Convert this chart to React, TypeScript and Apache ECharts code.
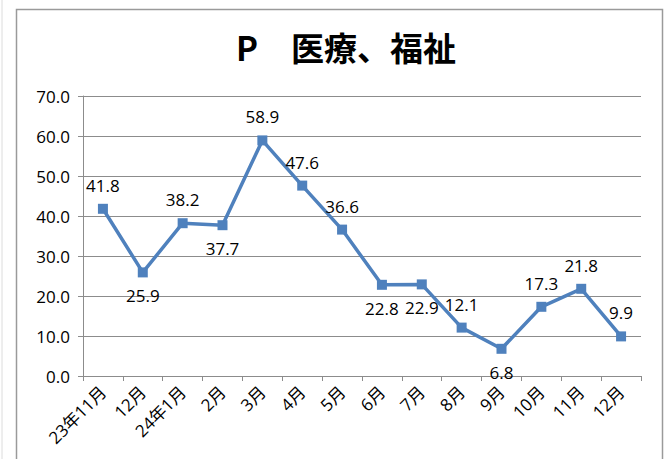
import React, { useEffect, useRef } from "react";
import * as echarts from "echarts";

const title = "P　医療、福祉";
const categories = ["23年11月", "12月", "24年1月", "2月", "3月", "4月", "5月", "6月", "7月", "8月", "9月", "10月", "11月", "12月"];
const values = [41.8, 25.9, 38.2, 37.7, 58.9, 47.6, 36.6, 22.8, 22.9, 12.1, 6.8, 17.3, 21.8, 9.9];
const labelPositions = ["top", "bottom", "top", "bottom", "top", "top", "top", "bottom", "bottom", "top", "bottom", "top", "top", "top"];
const yMin = 0;
const yMax = 70;
const yInterval = 10;

const FONT = "'Open Sans', 'Noto Sans CJK JP', sans-serif";
const BLUE = "#4F81BD";

export default function App() {
  const ref = useRef<HTMLDivElement>(null);
  useEffect(() => {
    if (!ref.current) return;
    const chart = echarts.init(ref.current, null, { renderer: "svg" });
    chart.setOption({
      animation: false,
      backgroundColor: "#ffffff",
      title: {
        text: title,
        left: 341,
        top: 25,
        textAlign: "center",
        textStyle: { fontFamily: "'Noto Sans CJK JP', sans-serif", fontSize: 33, fontWeight: "bold", color: "#000" },
      },
      graphic: [
        { type: "line", shape: { x1: 2, y1: 0, x2: 2, y2: 459 }, style: { stroke: "#dcdcdc", lineWidth: 1 } },
        {
          type: "polyline",
          shape: { points: [[16.5, 470], [16.5, 9.5], [662.5, 9.5], [662.5, 470]] },
          style: { stroke: "#9a9a9a", lineWidth: 1.5, fill: "none" },
        },
      ],
      grid: { left: 83, right: 26, top: 96, bottom: 83, containLabel: false },
      xAxis: {
        type: "category",
        data: categories,
        boundaryGap: true,
        axisLine: { show: true, lineStyle: { color: "#8c8c8c", width: 1 } },
        axisTick: { show: true, length: 5, alignWithLabel: false, lineStyle: { color: "#8c8c8c" } },
        axisLabel: { rotate: 45, interval: 0, margin: 13, fontFamily: FONT, fontSize: 17, color: "#000" },
      },
      yAxis: {
        type: "value",
        min: yMin,
        max: yMax,
        interval: yInterval,
        axisLine: { show: true, lineStyle: { color: "#8c8c8c", width: 1 } },
        axisTick: { show: true, length: 5, lineStyle: { color: "#8c8c8c" } },
        splitLine: { show: true, lineStyle: { color: "#8c8c8c", width: 1 } },
        axisLabel: {
          margin: 13,
          fontFamily: FONT,
          fontSize: 17,
          color: "#000",
          formatter: (v: number) => v.toFixed(1),
        },
      },
      series: [
        {
          type: "line",
          data: values.map((v, i) => ({
            value: v,
            label: { position: labelPositions[i] },
          })),
          symbol: "rect",
          symbolSize: 10,
          lineStyle: { color: BLUE, width: 3.5 },
          itemStyle: { color: BLUE },
          label: {
            show: true,
            distance: 10,
            fontFamily: FONT,
            fontSize: 17,
            color: "#000",
            formatter: (p: any) => Number(p.value).toFixed(1),
          },
        },
      ],
    });
    return () => chart.dispose();
  }, []);
  return <div ref={ref} style={{ position: "absolute", left: 0, top: 0, width: 667, height: 459 }} />;
}
